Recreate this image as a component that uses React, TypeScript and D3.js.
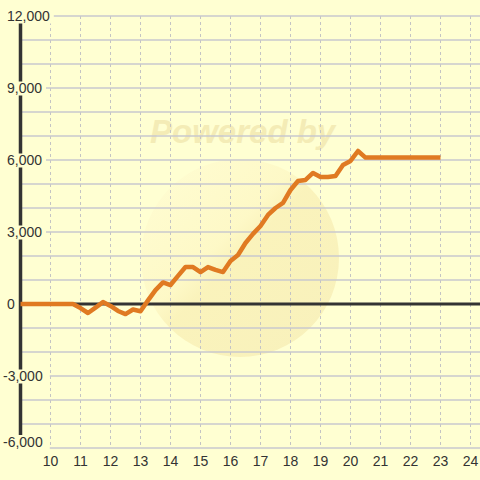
import React from "react";
import * as d3 from "d3";

const hours = [9, 10.75, 11, 11.25, 11.5, 11.75, 12, 12.25, 12.5, 12.75, 13, 13.25, 13.5, 13.75, 14, 14.25, 14.5, 14.75, 15, 15.25, 15.5, 15.75, 16, 16.25, 16.5, 16.75, 17, 17.25, 17.5, 17.75, 18, 18.25, 18.5, 18.75, 19, 19.25, 19.5, 19.75, 20, 20.25, 20.5, 23];
const values = [0, 0, -170, -375, -150, 80, -80, -290, -420, -230, -300, 150, 580, 900, 790, 1170, 1540, 1540, 1330, 1540, 1420, 1330, 1790, 2040, 2540, 2920, 3250, 3710, 4000, 4210, 4750, 5125, 5170, 5460, 5290, 5290, 5330, 5790, 5960, 6375, 6100, 6100];
const xTicks = [10, 11, 12, 13, 14, 15, 16, 17, 18, 19, 20, 21, 22, 23, 24];
const yLabelTicks = [12000, 9000, 6000, 3000, 0, -3000, -6000];
const yGridTicks = [12000, 11000, 10000, 9000, 8000, 7000, 6000, 5000, 4000, 3000, 2000, 1000, 0, -1000, -2000, -3000, -4000, -5000, -6000];

const W = 480, H = 480;
const left = 20.5, right = 480, top = 16, bottom = 448;

export default function App() {
  const x = d3.scaleLinear().domain([9, 24]).range([left, 470.5]);
  const y = d3.scaleLinear().domain([-6000, 12000]).range([bottom, top]);
  const pts: [number, number][] = hours.map((h, i) => [h, values[i]]);
  const line = d3.line<[number, number]>().x(d => x(d[0])).y(d => y(d[1]));
  const fmt = d3.format(",");
  const font = "'Liberation Sans', Arial, sans-serif";
  return (
    <svg width={W} height={H} style={{ position: "absolute", left: 0, top: 0 }} fontFamily={font}>
      <defs>
        <linearGradient id="wm" x1="0.1" y1="0" x2="0.9" y2="0.8">
          <stop offset="0" stopColor="#fffcd2" />
          <stop offset="0.45" stopColor="#fdf7c4" />
          <stop offset="0.55" stopColor="#f9f0b6" />
          <stop offset="1" stopColor="#f7eeb6" />
        </linearGradient>
      </defs>
      <rect x={0} y={0} width={W} height={H} fill="#ffffd2" />
      {/* watermark */}
      <circle cx={240} cy={258} r={99} fill="url(#wm)" opacity={0.8} />
      <text x={150} y={143} fontSize={33} fontWeight="bold" fontStyle="italic" fill="#f4ecb6">Powered by</text>
      {/* vertical dashed grid */}
      {xTicks.map(t => (
        <line key={"vx" + t} x1={x(t)} x2={x(t)} y1={top} y2={bottom} stroke="#c4c4c4" strokeWidth={1} strokeDasharray="3,3" />
      ))}
      {/* horizontal grid */}
      {yGridTicks.map(t => (
        <line key={"hy" + t} x1={left} x2={right} y1={y(t)} y2={y(t)} stroke="#c8c8ce" strokeWidth={1.3} />
      ))}
      {/* zero line */}
      <line x1={left} x2={right} y1={y(0)} y2={y(0)} stroke="#333" strokeWidth={3} />
      {/* y axis */}
      <line x1={left} x2={left} y1={top} y2={bottom} stroke="#333" strokeWidth={3.5} />
      {/* data line */}
      <path d={line(pts) || ""} fill="none" stroke="#e07a22" strokeWidth={4.5} strokeLinejoin="round" />
      {/* y labels */}
      {yLabelTicks.map(t => {
        const ly = Math.min(y(t) + 0.5, bottom - 6);
        const lx = t < 0 ? 3 : 7;
        const label = fmt(t).replace("−", "-");
        return (
          <g key={"yl" + t}>
            <rect x={lx - 1} y={ly - 7} width={label.length * 7.8 + 1} height={14} fill="#ffffd2" />
            <text x={lx} y={ly} dy="0.35em" fontSize={14} fill="#333">{label}</text>
          </g>
        );
      })}
      {/* x labels */}
      {xTicks.map(t => (
        <text key={"xl" + t} x={x(t)} y={461} dy="0.35em" textAnchor="middle" fontSize={14} fill="#333">{t}</text>
      ))}
    </svg>
  );
}
